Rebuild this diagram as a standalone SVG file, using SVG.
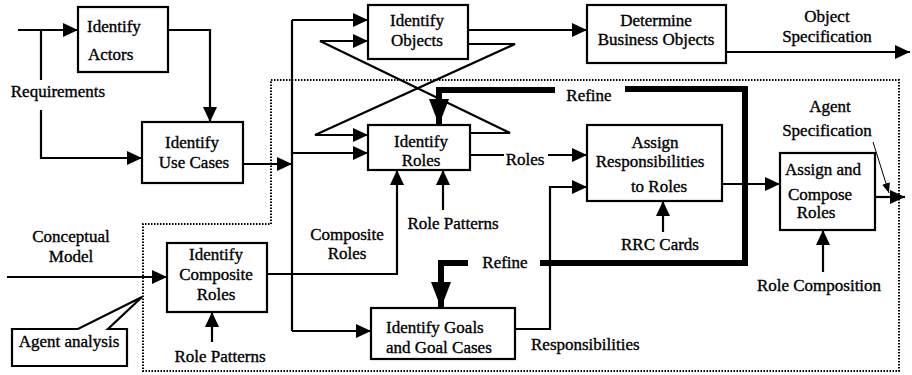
<svg xmlns="http://www.w3.org/2000/svg" width="912" height="375" viewBox="0 0 912 375">
<defs>
<style>
text{font-family:"Liberation Serif","Times New Roman",serif;font-size:17px;fill:#000;stroke:#000;stroke-width:0.35}
.box{fill:#fff;stroke:#000;stroke-width:2.2}
.ln{fill:none;stroke:#000;stroke-width:2.2}
.thick{fill:none;stroke:#000;stroke-width:6}
.dot{fill:none;stroke:#000;stroke-width:2;stroke-dasharray:1.5 1.5}
.thin{fill:none;stroke:#000;stroke-width:1}
.m{text-anchor:middle}
</style>
<marker id="arr" markerUnits="userSpaceOnUse" markerWidth="15" markerHeight="14" refX="15" refY="7" orient="auto">
<path d="M0,0 L15,7 L0,14 z" fill="#000"/>
</marker>
<marker id="big" markerUnits="userSpaceOnUse" markerWidth="26" markerHeight="20" refX="26" refY="10" orient="auto">
<path d="M0,0 L26,10 L0,20 z" fill="#000"/>
</marker>
<marker id="sm" markerUnits="userSpaceOnUse" markerWidth="10" markerHeight="8" refX="10" refY="4" orient="auto">
<path d="M0,0 L10,4 L0,8 z" fill="#000"/>
</marker>
</defs>
<rect width="912" height="375" fill="#fff"/>

<g id="boundary">
<path class="dot" d="M271,80 H899 V371 H143 V224 H271 Z"/>
</g>

<g id="connectors">
<path class="ln" d="M18,30 H78" marker-end="url(#arr)"/>
<path class="ln" d="M41,30 V80"/>
<path class="ln" d="M41,110 V158 H142" marker-end="url(#arr)"/>
<path class="ln" d="M168,30 H210 V122" marker-end="url(#arr)"/>
<path class="ln" d="M243,164 H292" marker-end="url(#arr)"/>
<path class="ln" d="M292,20 V331"/>
<path class="ln" d="M292,20 H368" marker-end="url(#arr)"/>
<path class="ln" d="M292,153 H368" marker-end="url(#arr)"/>
<path class="ln" d="M292,331 H371" marker-end="url(#arr)"/>
<path class="ln" d="M468,44 H515 L315,135 H368" marker-end="url(#arr)"/>
<path class="ln" d="M470,133 H510 L320,41 H368" marker-end="url(#arr)"/>
<path class="ln" d="M468,30 H587" marker-end="url(#arr)"/>
<path class="ln" d="M726,52 H910" marker-end="url(#arr)"/>
<path class="ln" d="M470,155 H504"/>
<path class="ln" d="M548,155 H587" marker-end="url(#arr)"/>
<path class="ln" d="M515,329 H550 V187 H587" marker-end="url(#arr)"/>
<path class="ln" d="M267,274 H397 V170" marker-end="url(#arr)"/>
<path class="ln" d="M443,210 V170" marker-end="url(#arr)"/>
<path class="ln" d="M212,342 V312" marker-end="url(#arr)"/>
<path class="ln" d="M7,277 H167" marker-end="url(#arr)"/>
<path class="ln" d="M663,232 V201" marker-end="url(#arr)"/>
<path class="ln" d="M722,184 H780" marker-end="url(#arr)"/>
<path class="ln" d="M823,272 V230" marker-end="url(#arr)"/>
<path class="ln" d="M875,197 H905" marker-end="url(#arr)"/>
<path class="thin" d="M873,142 L889,193" marker-end="url(#sm)"/>
<path class="thick" d="M555,90 H439 V125" marker-end="url(#big)"/>
<path class="thick" d="M625,89 H745 V263 H540"/>
<path class="thick" d="M468,263 H441 V308" marker-end="url(#big)"/>
</g>

<g id="labels">
<text x="58" y="97" class="m">Requirements</text>
<text x="71" y="242" class="m">Conceptual</text>
<text x="71" y="262" class="m">Model</text>
<text x="827" y="22" class="m">Object</text>
<text x="827" y="42" class="m">Specification</text>
<text x="830" y="112" class="m">Agent</text>
<text x="827" y="136" class="m">Specification</text>
<text x="589" y="101" class="m">Refine</text>
<text x="505" y="268" class="m">Refine</text>
<text x="525" y="165" class="m">Roles</text>
<text x="347" y="240" class="m">Composite</text>
<text x="347" y="259" class="m">Roles</text>
<text x="453" y="229" class="m">Role Patterns</text>
<text x="220" y="362" class="m">Role Patterns</text>
<text x="660" y="250" class="m">RRC Cards</text>
<text x="819" y="291" class="m">Role Composition</text>
<text x="531" y="350">Responsibilities</text>
</g>

<g id="identify-actors">
<rect class="box" x="78" y="7" width="90" height="65"/>
<text x="87" y="32">Identify</text>
<text x="88" y="60">Actors</text>
</g>

<g id="identify-use-cases">
<rect class="box" x="142" y="122" width="101" height="61"/>
<text x="192" y="148" class="m">Identify</text>
<text x="194" y="168" class="m">Use Cases</text>
</g>

<g id="identify-objects">
<rect class="box" x="368" y="5" width="100" height="54"/>
<text x="417" y="26" class="m">Identify</text>
<text x="417" y="46" class="m">Objects</text>
</g>

<g id="determine-business-objects">
<rect class="box" x="587" y="5" width="139" height="58"/>
<text x="656" y="26" class="m">Determine</text>
<text x="656" y="45" class="m">Business Objects</text>
</g>

<g id="identify-roles">
<rect class="box" x="368" y="125" width="102" height="45"/>
<text x="421" y="147" class="m">Identify</text>
<text x="421" y="166" class="m">Roles</text>
</g>

<g id="assign-responsibilities">
<rect class="box" x="587" y="125" width="135" height="76"/>
<text x="655" y="148" class="m">Assign</text>
<text x="650" y="167" class="m">Responsibilities</text>
<text x="659" y="192" class="m">to Roles</text>
</g>

<g id="assign-and-compose-roles">
<rect class="box" x="780" y="153" width="95" height="77"/>
<text x="785" y="175">Assign and</text>
<text x="820" y="200" class="m">Compose</text>
<text x="816" y="218" class="m">Roles</text>
</g>

<g id="identify-composite-roles">
<rect class="box" x="167" y="243" width="100" height="69"/>
<text x="216" y="260" class="m">Identify</text>
<text x="216" y="280" class="m">Composite</text>
<text x="216" y="300" class="m">Roles</text>
</g>

<g id="identify-goals">
<rect class="box" x="371" y="308" width="144" height="51"/>
<text x="386" y="333">Identify Goals</text>
<text x="386" y="353">and Goal Cases</text>
</g>

<g id="agent-analysis">
<path class="box" d="M108,329 H127 V366 H12 V329 H78 L142,297 Z"/>
<text x="69" y="347" class="m">Agent analysis</text>
</g>
</svg>
